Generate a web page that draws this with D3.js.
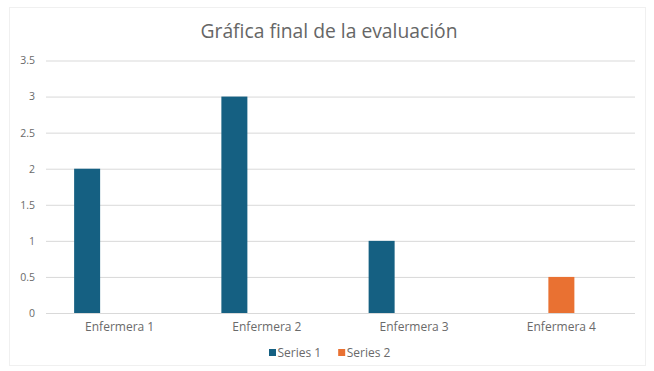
<!DOCTYPE html>
<html><head><meta charset="utf-8">
<script src="https://cdn.jsdelivr.net/npm/d3@7"></script>
<style>body{margin:0;background:#fff}svg{display:block}</style>
</head><body>
<script>
const categories = ["Enfermera 1","Enfermera 2","Enfermera 3","Enfermera 4"];
const seriesNames = ["Series 1","Series 2"];
const series1 = [2, 3, 1, null];
const series2 = [null, null, null, 0.5];
const yTicks = [0, 0.5, 1, 1.5, 2, 2.5, 3, 3.5];
const colors = ["#156082", "#E97132"];
const title = "Gráfica final de la evaluación";

const W = 654, H = 371;
const font = "'Open Sans', sans-serif";
const svg = d3.select("body").append("svg").attr("width", W).attr("height", H);
svg.append("rect").attr("x",9.5).attr("y",7.5).attr("width",636).attr("height",358)
  .attr("fill","#fff").attr("stroke","#f0f0f0");

const m = {left:46, right:635, top:60.5, bottom:313};
const x0 = d3.scaleBand().domain(categories).range([m.left, m.right]).padding(0);
const y = d3.scaleLinear().domain([0, 3.5]).range([m.bottom, m.top]);
const groupW = 91;
// three slots per category (Excel layout with series 2 in the middle slot)
const x1 = d3.scaleBand().domain([0,1,2])
  .range([(x0.bandwidth()-groupW)/2, (x0.bandwidth()+groupW)/2]).paddingInner(0.2);
const slotOf = [0, 1];

const yAxis = d3.axisLeft(y).tickValues(yTicks).tickSize(-(m.right-m.left)).tickFormat(d3.format("~g"));
const gy = svg.append("g").attr("transform", `translate(${m.left},0)`).call(yAxis);
gy.select(".domain").remove();
gy.selectAll(".tick line").attr("stroke","#d9d9d9").attr("stroke-width",1);
gy.selectAll(".tick text").attr("x",-11).attr("fill","#6a6a6a").attr("font-size",10.5).attr("font-family",font);

const xAxis = d3.axisBottom(x0).tickSize(0).tickPadding(9);
const gx = svg.append("g").attr("transform", `translate(0,${m.bottom})`).call(xAxis);
gx.select(".domain").remove();
gx.selectAll(".tick text").attr("fill","#6a6a6a").attr("font-size",12).attr("font-family",font);

const allSeries = [series1, series2];
allSeries.forEach((vals, si) => {
  svg.append("g").selectAll("rect").data(categories.map((c,i)=>({c, v: vals[i]})).filter(d=>d.v!=null))
    .join("rect")
    .attr("x", d => x0(d.c) + x1(slotOf[si]))
    .attr("width", x1.bandwidth())
    .attr("y", d => y(d.v))
    .attr("height", d => y(0) - y(d.v))
    .attr("fill", colors[si]);
});

svg.append("text").attr("x", 329).attr("y", 38).attr("text-anchor","middle")
  .attr("fill","#666").attr("font-size",19.3).attr("font-family",font).text(title);

const lg = svg.append("g").attr("transform","translate(269,353)");
let lx = 0;
seriesNames.forEach((n, i) => {
  const g = lg.append("g").attr("transform", `translate(${lx},0)`);
  g.append("rect").attr("x",0).attr("y",-4).attr("width",7).attr("height",7).attr("fill",colors[i]);
  const t = g.append("text").attr("x",8.5).attr("y",4).attr("fill","#6a6a6a").attr("font-size",12).attr("font-family",font).text(n);
  lx += 8.5 + t.node().getComputedTextLength() + 17;
});
</script>
</body></html>
